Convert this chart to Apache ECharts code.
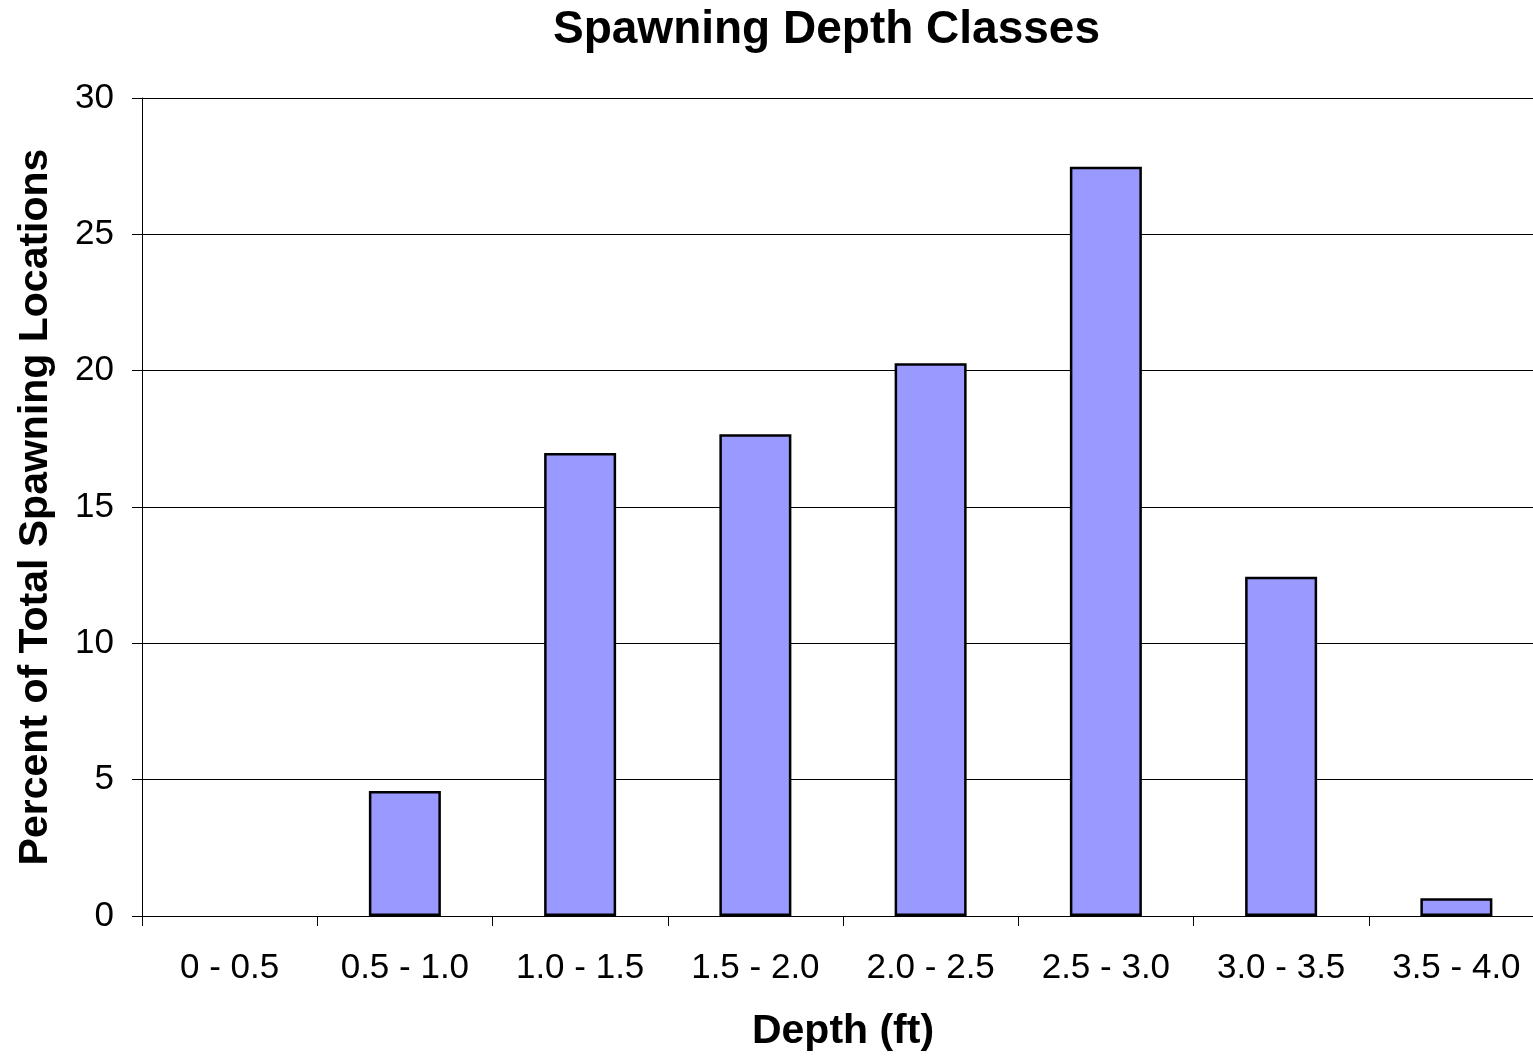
<!DOCTYPE html>
<html><head><meta charset="utf-8">
<script src="https://cdn.jsdelivr.net/npm/echarts@6/dist/echarts.min.js"></script>
<style>html,body{margin:0;padding:0;background:#fff}#c{width:1533px;height:1056px}</style>
</head><body><div id="c"></div>
<script>
var categories = ["0 - 0.5","0.5 - 1.0","1.0 - 1.5","1.5 - 2.0","2.0 - 2.5","2.5 - 3.0","3.0 - 3.5","3.5 - 4.0"];
var percents = [0, 4.58, 16.98, 17.67, 20.27, 27.48, 12.44, 0.65];
var yTicks = [0, 5, 10, 15, 20, 25, 30];
var titleText = "Spawning Depth Classes";
var xName = "Depth (ft)";
var yName = "Percent of Total Spawning Locations";

var chart = echarts.init(document.getElementById('c'), null, {renderer:'canvas'});
var font = "'Liberation Sans', Arial, sans-serif";
var barData = percents.map(function(v){
  return v === 0 ? {value:v, itemStyle:{borderWidth:0}} : v;
});
chart.setOption({
  animation:false,
  title:{text:titleText,top:2,left:548,textStyle:{fontFamily:font,fontSize:46,fontWeight:'bold',color:'#000'}},
  grid:{left:142,right:-11,top:98,bottom:140,containLabel:false,outerBoundsMode:'none'},
  xAxis:{type:'category',data:categories,
    name:xName,nameLocation:'middle',nameGap:95,
    nameTextStyle:{fontFamily:font,fontSize:41,fontWeight:'bold',color:'#000'},
    axisLine:{lineStyle:{color:'#000',width:1}},
    axisTick:{show:true,alignWithLabel:false,length:10,lineStyle:{color:'#000'}},
    axisLabel:{fontFamily:font,fontSize:35,color:'#000',margin:35,interval:0},
    splitLine:{show:false}},
  yAxis:{type:'value',min:yTicks[0],max:yTicks[yTicks.length-1],interval:5,
    name:yName,nameLocation:'middle',nameGap:86,
    nameTextStyle:{fontFamily:font,fontSize:41,fontWeight:'bold',color:'#000'},
    axisLine:{show:true,lineStyle:{color:'#000',width:1}},
    axisTick:{show:true,length:10,lineStyle:{color:'#000'}},
    axisLabel:{fontFamily:font,fontSize:35,color:'#000',margin:28},
    splitLine:{show:true,lineStyle:{color:'#000',width:1}}},
  series:[{type:'bar',data:barData,barWidth:72,
    itemStyle:{color:'#9999ff',borderColor:'#000',borderWidth:2.5}}]
});
</script></body></html>
